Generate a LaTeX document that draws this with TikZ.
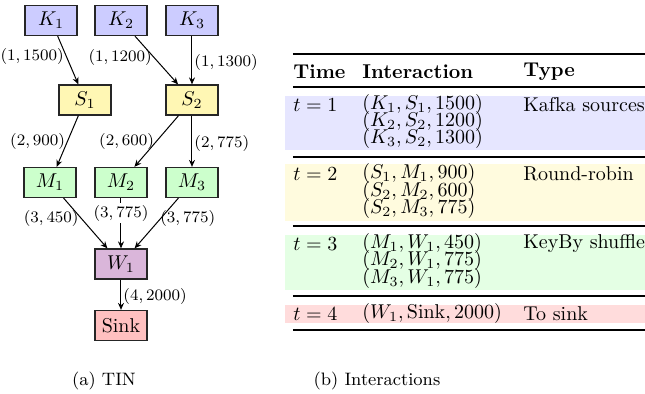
\documentclass[tikz,border=0pt]{standalone}
\usetikzlibrary{arrows.meta}
\definecolor{kfill}{RGB}{204,204,255}
\definecolor{sfill}{RGB}{255,247,180}
\definecolor{mfill}{RGB}{204,255,204}
\definecolor{wfill}{RGB}{218,182,218}
\definecolor{xfill}{RGB}{255,192,192}
\definecolor{bandK}{RGB}{230,230,255}
\definecolor{bandS}{RGB}{255,251,222}
\definecolor{bandM}{RGB}{228,255,228}
\definecolor{bandX}{RGB}{255,220,220}
\begin{document}
\begin{tikzpicture}[x=0.5pt,y=-0.5pt,
  box/.style={draw=black!85,line width=0.6pt,minimum width=26pt,minimum height=15pt,inner sep=1pt,font=\normalsize},
  flow/.style={line width=0.5pt,-{Stealth[length=3.5pt,width=3pt]}},
  lab/.style={font=\footnotesize,inner sep=1pt},
  cell/.style={anchor=west,inner sep=0pt},
  captext/.style={font=\fontsize{9}{11}\selectfont},
  thickrule/.style={line width=1.1pt},
  thinrule/.style={line width=0.7pt}]
\useasboundingbox (0,0) rectangle (645,394);
\clip (0,0) rectangle (645,394);
% --- (a) TIN ---
\node[box,fill=kfill] (K1) at (51,20.5) {$K_1$};
\node[box,fill=kfill] (K2) at (121,20.5) {$K_2$};
\node[box,fill=kfill] (K3) at (192,20.5) {$K_3$};
\node[box,fill=sfill] (S1) at (85,100) {$S_1$};
\node[box,fill=sfill] (S2) at (192,100) {$S_2$};
\node[box,fill=mfill] (M1) at (50,182.5) {$M_1$};
\node[box,fill=mfill] (M2) at (121,182.5) {$M_2$};
\node[box,fill=mfill] (M3) at (192,182.5) {$M_3$};
\node[box,fill=wfill] (W1) at (121,264) {$W_1$};
\node[box,fill=xfill] (X) at (121,325.5) {Sink};
\draw[flow] (K1) -- node[lab,left,pos=0.42] {$(1,1500)$} (S1);
\draw[flow] (K2) -- node[lab,left,pos=0.45] {$(1,1200)$} (S2);
\draw[flow] (K3) -- node[lab,right,pos=0.55] {$(1,1300)$} (S2);
\draw[flow] (S1) -- node[lab,left,pos=0.5] {$(2,900)$} (M1);
\draw[flow] (S2) -- node[lab,left,pos=0.5] {$(2,600)$} (M2);
\draw[flow] (S2) -- node[lab,right,pos=0.55] {$(2,775)$} (M3);
\draw[flow] (M1) -- node[lab,left,pos=0.4] {$(3,450)$} (W1);
\draw[flow] (M2) -- node[lab,fill=white,inner sep=1pt,pos=0.3] {$(3,775)$} (W1);
\draw[flow] (M3) -- node[lab,right,pos=0.4,xshift=-1.5pt] {$(3,775)$} (W1);
\draw[flow] (W1) -- node[lab,right,pos=0.55] {$(4,2000)$} (X);
\node[captext] (capa) at (104,381) {(a) TIN};
% --- (b) Interactions ---
\fill[bandK] (285,96) rectangle (660,150);
\fill[bandS] (285,164) rectangle (660,221);
\fill[bandM] (285,235) rectangle (660,290);
\fill[bandX] (285,305) rectangle (660,323);
\draw[thickrule] (293,54) -- (660,54);
\draw[thinrule] (293,87) -- (660,87);
\draw[thinrule] (293,157) -- (660,157);
\draw[thinrule] (293,226) -- (660,226);
\draw[thinrule] (293,296) -- (660,296);
\draw[thickrule] (293,330) -- (660,330);
\node[cell] (h1) at (293,72) {\bfseries Time};
\node[cell] (h2) at (362,72) {\bfseries Interaction};
\node[cell] (h3) at (523,72) {\bfseries Type};
\node[cell] (t1) at (293,105) {$t=1$};
\node[cell] (a1) at (362,105) {$(K_1,S_1,1500)$};
\node[cell] (a2) at (362,122) {$(K_2,S_2,1200)$};
\node[cell] (a3) at (362,139) {$(K_3,S_2,1300)$};
\node[cell] (y1) at (523,105) {Kafka sources};
\node[cell] (t2) at (293,174) {$t=2$};
\node[cell] (b1) at (362,174) {$(S_1,M_1,900)$};
\node[cell] (b2) at (362,192) {$(S_2,M_2,600)$};
\node[cell] (b3) at (362,209) {$(S_2,M_3,775)$};
\node[cell] (y2) at (523,174) {Round-robin};
\node[cell] (t3) at (293,244) {$t=3$};
\node[cell] (c1) at (362,244) {$(M_1,W_1,450)$};
\node[cell] (c2) at (362,261) {$(M_2,W_1,775)$};
\node[cell] (c3) at (362,279) {$(M_3,W_1,775)$};
\node[cell] (y3) at (523,244) {KeyBy shuffle};
\node[cell] (t4) at (293,314) {$t=4$};
\node[cell] (d1) at (362,314) {$(W_1,\mathrm{Sink},2000)$};
\node[cell] (y4) at (523,314) {To sink};
\node[captext] (capb) at (377,381) {(b) Interactions};
\end{tikzpicture}
\end{document}
